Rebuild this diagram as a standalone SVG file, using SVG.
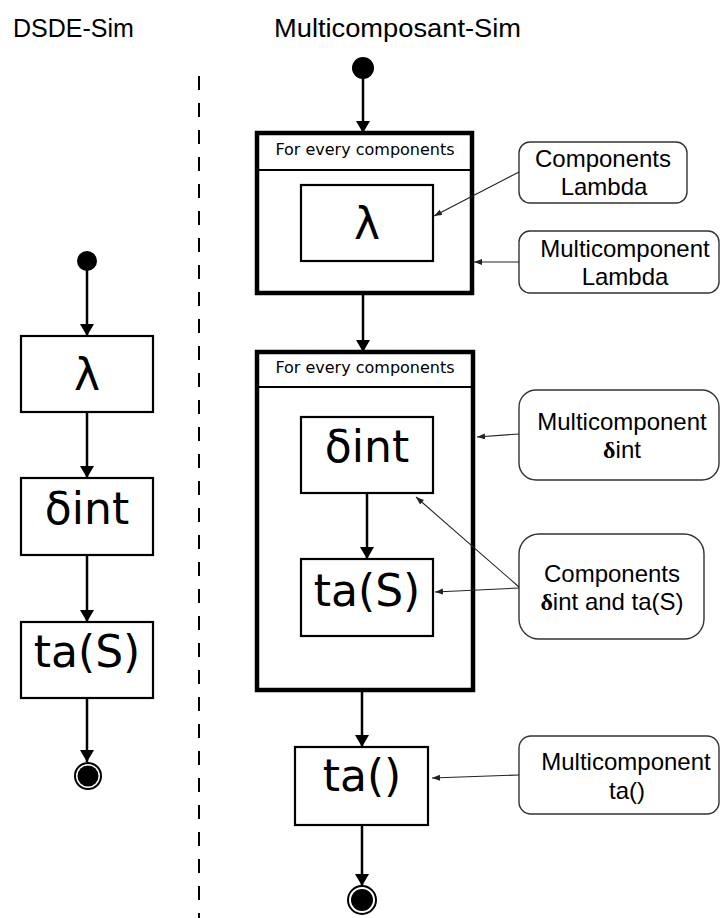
<svg xmlns="http://www.w3.org/2000/svg" width="720" height="918" viewBox="0 0 720 918">
<style>
.title{font-family:"Liberation Sans",Arial,sans-serif;font-size:25px;fill:#000}
.box{fill:#fff;stroke:#000;stroke-width:2.2}
.frame{fill:#fff;stroke:#000;stroke-width:4.5}
.hdr{stroke:#000;stroke-width:2}
.big{font-family:"DejaVu Sans",sans-serif;font-size:44px;text-anchor:middle;fill:#000}
.small{font-family:"DejaVu Sans",sans-serif;font-size:16px;text-anchor:middle;fill:#000}
.call{fill:#fff;stroke:#333;stroke-width:1.4}
.ct{font-family:"Liberation Sans",Arial,sans-serif;font-size:24px;text-anchor:middle;fill:#000}
.d{font-family:"Liberation Serif","Times New Roman",serif;font-weight:bold}
.flow{stroke:#000;stroke-width:2.5;fill:none;marker-end:url(#ah)}
.note{stroke:#222;stroke-width:1.1;fill:none;marker-end:url(#sh)}
.dash{stroke:#000;stroke-width:2;stroke-dasharray:14 13}
</style>
<defs>
<marker id="ah" markerUnits="userSpaceOnUse" markerWidth="16" markerHeight="14" refX="12" refY="7" orient="auto">
<path d="M0,0 L12,7 L0,14 Z" fill="#000"/>
</marker>
<marker id="sh" markerUnits="userSpaceOnUse" markerWidth="10" markerHeight="8" refX="8" refY="3" orient="auto">
<path d="M0,0 L8,3 L0,6 Z" fill="#222"/>
</marker>
</defs>

<g id="titles">
<text class="title" x="13" y="37">DSDE-Sim</text>
<text class="title" x="274" y="37" font-size="26" textLength="247" lengthAdjust="spacingAndGlyphs">Multicomposant-Sim</text>
</g>

<line class="dash" x1="199" y1="76" x2="199" y2="918"/>

<g id="left-start"><circle cx="87" cy="261" r="10" fill="#000"/></g>
<g id="left-lambda"><rect class="box" x="21" y="336" width="132" height="76"/><text class="big" x="87" y="390">λ</text></g>
<g id="left-dint"><rect class="box" x="21" y="478" width="132" height="77"/><text class="big" x="87" y="524">δint</text></g>
<g id="left-ta"><rect class="box" x="21" y="622" width="132" height="76"/><text class="big" x="87" y="667">ta(S)</text></g>
<g id="left-end"><circle cx="88" cy="776" r="13" fill="#fff" stroke="#000" stroke-width="2"/><circle cx="88" cy="776" r="10.5" fill="#000"/></g>

<g id="right-start"><circle cx="363" cy="68" r="11" fill="#000"/></g>

<g id="frame1">
<rect class="frame" x="257" y="133" width="215" height="160"/>
<line class="hdr" x1="257" y1="170" x2="472" y2="170"/>
<text class="small" x="365" y="155">For every components</text>
</g>
<g id="right-lambda"><rect class="box" x="301" y="185" width="132" height="76"/><text class="big" x="367" y="239">λ</text></g>

<g id="frame2">
<rect class="frame" x="257" y="352" width="216" height="338"/>
<line class="hdr" x1="257" y1="387" x2="473" y2="387"/>
<text class="small" x="365" y="373">For every components</text>
</g>
<g id="right-dint"><rect class="box" x="301" y="417" width="132" height="76"/><text class="big" x="367" y="462">δint</text></g>
<g id="right-taS"><rect class="box" x="301" y="559" width="132" height="77"/><text class="big" x="367" y="606">ta(S)</text></g>
<g id="right-ta"><rect class="box" x="295" y="747" width="133" height="78"/><text class="big" x="362" y="791">ta()</text></g>
<g id="right-end"><circle cx="362" cy="900" r="14" fill="#fff" stroke="#000" stroke-width="2"/><circle cx="362" cy="900" r="11" fill="#000"/></g>

<g id="note-comp-lambda"><rect class="call" x="519" y="142" width="168" height="61" rx="11"/><text class="ct" x="603" y="167">Components</text><text class="ct" x="604" y="195">Lambda</text></g>
<g id="note-multi-lambda"><rect class="call" x="519" y="231" width="200" height="62" rx="11"/><text class="ct" x="625" y="257">Multicomponent</text><text class="ct" x="625" y="285">Lambda</text></g>
<g id="note-multi-dint"><rect class="call" x="519" y="390" width="200" height="90" rx="17"/><text class="ct" x="622" y="430">Multicomponent</text><text class="ct" x="622" y="458"><tspan class="d">δ</tspan>int</text></g>
<g id="note-comp-dint-ta"><rect class="call" x="519" y="534" width="185" height="105" rx="20"/><text class="ct" x="612" y="582">Components</text><text class="ct" x="612" y="610"><tspan class="d">δ</tspan>int and ta(S)</text></g>
<g id="note-multi-ta"><rect class="call" x="519" y="736" width="200" height="78" rx="12"/><text class="ct" x="626" y="770">Multicomponent</text><text class="ct" x="627" y="799">ta()</text></g>

<g id="connectors">
<line class="flow" x1="87" y1="266" x2="87" y2="336"/>
<line class="flow" x1="87" y1="412" x2="87" y2="478"/>
<line class="flow" x1="87" y1="555" x2="87" y2="622"/>
<line class="flow" x1="87" y1="698" x2="87" y2="762"/>
<line class="flow" x1="363" y1="72" x2="363" y2="133"/>
<line class="flow" x1="363" y1="293" x2="363" y2="352"/>
<line class="flow" x1="367" y1="493" x2="367" y2="559"/>
<line class="flow" x1="362" y1="690" x2="362" y2="747"/>
<line class="flow" x1="362" y1="825" x2="362" y2="886"/>
<line class="note" x1="519" y1="172" x2="434" y2="216"/>
<line class="note" x1="519" y1="262" x2="474" y2="262"/>
<line class="note" x1="519" y1="434" x2="477" y2="437"/>
<line class="note" x1="519" y1="587" x2="416" y2="497"/>
<line class="note" x1="519" y1="588" x2="435" y2="592"/>
<line class="note" x1="519" y1="775" x2="432" y2="778"/>
</g>
</svg>
